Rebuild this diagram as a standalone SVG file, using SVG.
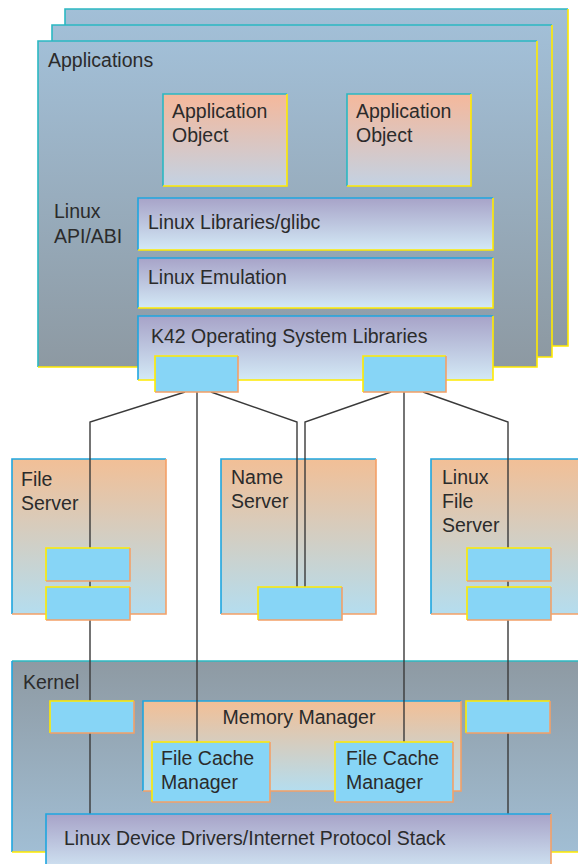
<svg xmlns="http://www.w3.org/2000/svg" width="578" height="864" viewBox="0 0 578 864">
<defs>
<linearGradient id="gFrame" x1="0" y1="0" x2="0" y2="1"><stop offset="0" stop-color="#a2bfd7"/><stop offset="1" stop-color="#8d99a2"/></linearGradient>
<linearGradient id="gObj" x1="0" y1="0" x2="0" y2="1"><stop offset="0" stop-color="#f5b89b"/><stop offset="1" stop-color="#c3d2e3"/></linearGradient>
<linearGradient id="gLib" x1="0" y1="0" x2="0" y2="1"><stop offset="0" stop-color="#a7a3c8"/><stop offset="1" stop-color="#d3e9f6"/></linearGradient>
<linearGradient id="gSrv" x1="0" y1="0" x2="0" y2="1"><stop offset="0" stop-color="#f2bf96"/><stop offset="1" stop-color="#b4ddef"/></linearGradient>
<linearGradient id="gKer" x1="0" y1="0" x2="0" y2="1"><stop offset="0" stop-color="#8e9aa3"/><stop offset="1" stop-color="#a1bed4"/></linearGradient>
</defs>
<style>
text{font-family:"Liberation Sans",Arial,sans-serif;font-size:19.5px;fill:#2b2b2b}
.e{fill:none;stroke-width:1.6}
.teal{stroke:#2bb8c2}
.blue{stroke:#1fa6df}
.yel{stroke:#ffea00}
.org{stroke:#f4a067}
.port{fill:#87d5f6}
.ln{fill:none;stroke:#3a3a3a;stroke-width:1.4}
</style>

<!-- application frames -->
<g id="app-frame-back">
<rect x="65" y="9" width="503" height="337" fill="url(#gFrame)"/>
<polyline class="e teal" points="65,346 65,9 568,9"/>
<polyline class="e yel" points="568,9 568,346 65,346"/>
</g>
<g id="app-frame-middle">
<rect x="52" y="25" width="500" height="332" fill="url(#gFrame)"/>
<polyline class="e teal" points="52,357 52,25 552,25"/>
<polyline class="e yel" points="552,25 552,357 52,357"/>
</g>
<g id="applications">
<rect x="38" y="41" width="499" height="326" fill="url(#gFrame)"/>
<polyline class="e teal" points="38,367 38,41 537,41"/>
<polyline class="e yel" points="537,41 537,367 38,367"/>
<text x="48" y="67">Applications</text>
<text x="54" y="218">Linux</text>
<text x="54" y="243">API/ABI</text>
</g>

<g id="app-object-1">
<rect x="163" y="94" width="124" height="92" fill="url(#gObj)"/>
<polyline class="e teal" points="163,186 163,94 287,94"/>
<polyline class="e yel" points="287,94 287,186 163,186"/>
<text x="172" y="118">Application</text>
<text x="172" y="142">Object</text>
</g>
<g id="app-object-2">
<rect x="347" y="94" width="124" height="92" fill="url(#gObj)"/>
<polyline class="e teal" points="347,186 347,94 471,94"/>
<polyline class="e yel" points="471,94 471,186 347,186"/>
<text x="356" y="118">Application</text>
<text x="356" y="142">Object</text>
</g>

<g id="linux-libraries">
<rect x="138" y="198" width="355" height="52" fill="url(#gLib)"/>
<polyline class="e blue" points="138,250 138,198 493,198"/>
<polyline class="e yel" points="493,198 493,250 138,250"/>
<text x="148" y="229">Linux Libraries/glibc</text>
</g>
<g id="linux-emulation">
<rect x="138" y="258" width="355" height="50" fill="url(#gLib)"/>
<polyline class="e blue" points="138,308 138,258 493,258"/>
<polyline class="e yel" points="493,258 493,308 138,308"/>
<text x="148" y="284">Linux Emulation</text>
</g>
<g id="k42-libraries">
<rect x="138" y="316" width="355" height="64" fill="url(#gLib)"/>
<polyline class="e blue" points="138,380 138,316 493,316"/>
<polyline class="e yel" points="493,316 493,380 138,380"/>
<text x="151" y="343">K42 Operating System Libraries</text>
</g>

<!-- servers -->
<g id="file-server">
<rect x="12" y="459" width="154" height="155" fill="url(#gSrv)"/>
<polyline class="e blue" points="12,614 12,459 166,459"/>
<polyline class="e org" points="166,459 166,614 12,614"/>
<text x="21" y="486">File</text>
<text x="21" y="510">Server</text>
</g>
<g id="name-server">
<rect x="221" y="459" width="155" height="155" fill="url(#gSrv)"/>
<polyline class="e blue" points="221,614 221,459 376,459"/>
<polyline class="e org" points="376,459 376,614 221,614"/>
<text x="231" y="484">Name</text>
<text x="231" y="508">Server</text>
</g>
<g id="linux-file-server">
<rect x="431" y="459" width="155" height="155" fill="url(#gSrv)"/>
<polyline class="e blue" points="431,614 431,459 586,459"/>
<polyline class="e org" points="586,614 431,614"/>
<text x="442" y="484">Linux</text>
<text x="442" y="508">File</text>
<text x="442" y="532">Server</text>
</g>

<!-- kernel -->
<g id="kernel">
<rect x="12" y="661" width="576" height="191" fill="url(#gKer)"/>
<polyline class="e teal" points="12,661 588,661"/>
<polyline class="e blue" points="12,852 12,661"/>
<polyline class="e yel" points="12,852 588,852"/>
<text x="23" y="689">Kernel</text>
</g>
<g id="memory-manager">
<rect x="143" y="701" width="318" height="90" fill="url(#gSrv)"/>
<polyline class="e blue" points="143,791 143,701 461,701"/>
<polyline class="e org" points="461,701 461,791 143,791"/>
<text x="299" y="724" text-anchor="middle">Memory Manager</text>
</g>

<!-- connectors -->
<g id="connectors">
<polyline class="ln" points="185,392 90,422 90,814"/>
<polyline class="ln" points="197,392 197,742"/>
<polyline class="ln" points="211,392 297,422 297,587"/>
<polyline class="ln" points="391,392 305,422 305,587"/>
<polyline class="ln" points="404,392 404,742"/>
<polyline class="ln" points="423,392 508,422 508,814"/>
</g>

<!-- ports -->
<g id="k42-port-1">
<rect class="port" x="155" y="356" width="83" height="36"/>
<polyline class="e yel" points="155,392 155,356 238,356"/>
<polyline class="e org" points="238,356 238,392 155,392"/>
</g>
<g id="k42-port-2">
<rect class="port" x="363" y="356" width="83" height="36"/>
<polyline class="e yel" points="363,392 363,356 446,356"/>
<polyline class="e org" points="446,356 446,392 363,392"/>
</g>
<g id="file-server-port-1">
<rect class="port" x="46" y="548" width="84" height="33"/>
<polyline class="e yel" points="46,581 46,548 130,548"/>
<polyline class="e org" points="130,548 130,581 46,581"/>
</g>
<g id="file-server-port-2">
<rect class="port" x="46" y="587" width="84" height="33"/>
<polyline class="e yel" points="46,620 46,587 130,587"/>
<polyline class="e org" points="130,587 130,620 46,620"/>
</g>
<g id="name-server-port">
<rect class="port" x="258" y="587" width="84" height="33"/>
<polyline class="e yel" points="258,620 258,587 342,587"/>
<polyline class="e org" points="342,587 342,620 258,620"/>
</g>
<g id="linux-file-server-port-1">
<rect class="port" x="467" y="548" width="84" height="33"/>
<polyline class="e yel" points="467,581 467,548 551,548"/>
<polyline class="e org" points="551,548 551,581 467,581"/>
</g>
<g id="linux-file-server-port-2">
<rect class="port" x="467" y="587" width="84" height="33"/>
<polyline class="e yel" points="467,620 467,587 551,587"/>
<polyline class="e org" points="551,587 551,620 467,620"/>
</g>
<g id="kernel-port-1">
<rect class="port" x="50" y="701" width="84" height="32"/>
<polyline class="e yel" points="50,733 50,701 134,701"/>
<polyline class="e org" points="134,701 134,733 50,733"/>
</g>
<g id="kernel-port-2">
<rect class="port" x="466" y="701" width="84" height="32"/>
<polyline class="e yel" points="466,733 466,701 550,701"/>
<polyline class="e org" points="550,701 550,733 466,733"/>
</g>

<g id="file-cache-manager-1">
<rect class="port" x="152" y="742" width="118" height="60"/>
<polyline class="e yel" points="152,802 152,742 270,742"/>
<polyline class="e org" points="270,742 270,802 152,802"/>
<text x="161" y="765">File Cache</text>
<text x="161" y="789">Manager</text>
</g>
<g id="file-cache-manager-2">
<rect class="port" x="335" y="742" width="118" height="60"/>
<polyline class="e yel" points="335,802 335,742 453,742"/>
<polyline class="e org" points="453,742 453,802 335,802"/>
<text x="346" y="765">File Cache</text>
<text x="346" y="789">Manager</text>
</g>

<g id="linux-device-drivers">
<rect x="46" y="814" width="505" height="60" fill="url(#gLib)"/>
<polyline class="e blue" points="46,874 46,814 551,814"/>
<polyline class="e org" points="551,814 551,874"/>
<text x="64" y="845">Linux Device Drivers/Internet Protocol Stack</text>
</g>
</svg>
